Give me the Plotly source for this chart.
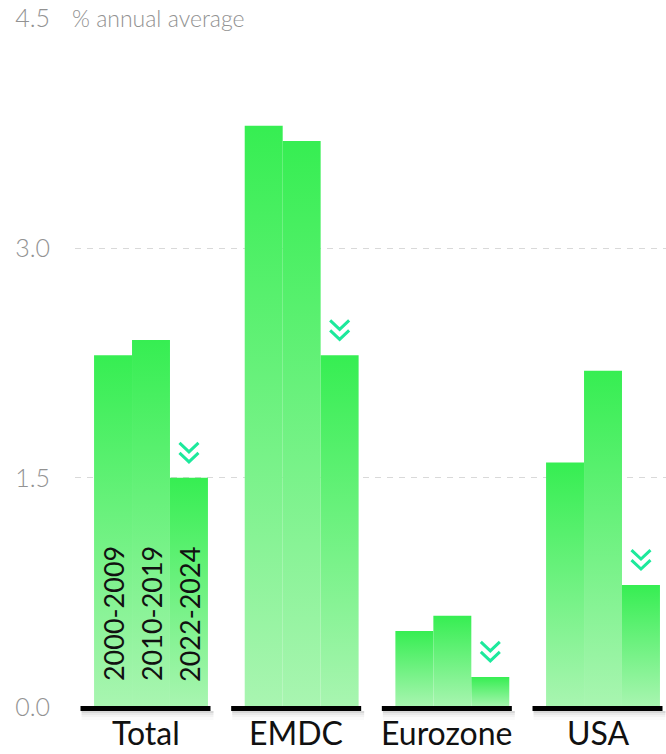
import plotly.graph_objects as go

# Average annual growth, % — three periods per economy
categories = ["Total", "EMDC", "Eurozone", "USA"]
periods = ["2000-2009", "2010-2019", "2022-2024"]
growth_2000_2009 = [2.3, 3.8, 0.5, 1.6]
growth_2010_2019 = [2.4, 3.7, 0.6, 2.2]
growth_2022_2024 = [1.5, 2.3, 0.2, 0.8]
y_ticks = [0.0, 1.5, 3.0, 4.5]

series = [growth_2000_2009, growth_2010_2019, growth_2022_2024]

BAR_W = 0.252          # width of one bar, in group units
TOP_GREEN = "#36ee52"
PALE_GREEN = "#a9f5b1"
CHEVRON = "#1de99c"
FONT = "Lato"

fig = go.Figure()

# Bars drawn as filled polygons so each one gets its own vertical gradient
for k, vals in enumerate(series):
    for i, v in enumerate(vals):
        cx = i + (k - 1) * BAR_W
        l, r = cx - BAR_W / 2, cx + BAR_W / 2
        fig.add_trace(go.Scatter(
            x=[l, r, r, l, l], y=[0, 0, v, v, 0],
            mode="lines", line=dict(width=0),
            fill="toself",
            fillgradient=dict(type="vertical",
                              colorscale=[[0, PALE_GREEN], [1, TOP_GREEN]]),
            hoverinfo="skip", showlegend=False,
        ))

shapes = []
annotations = []

# Double chevrons above the latest-period bar
for i, v in enumerate(growth_2022_2024):
    cx = i + BAR_W
    for top, apex in [(35, 26), (25, 16)]:
        shapes.append(dict(
            type="path", layer="above",
            xref="x", yref="y",
            xsizemode="pixel", ysizemode="pixel",
            xanchor=cx, yanchor=v,
            path=f"M-9.5,{top} L0,{apex} L9.5,{top}",
            line=dict(color=CHEVRON, width=3),
        ))

# Black base line under each group, with a soft shadow
# (paper y so the line is not clipped at the bottom of the plot area)
px_unit = 150.67
for i, name in enumerate(categories):
    lc = i - 5.5 / px_unit
    x0, x1 = lc - 65 / px_unit, lc + 65 / px_unit
    for (a, b, alpha) in [(-3, -5, 0.16), (-5, -7, 0.09), (-7, -9, 0.05),
                          (-9, -12, 0.02)]:
        shapes.append(dict(
            type="rect", layer="above", xref="x", yref="paper",
            ysizemode="pixel", yanchor=0, y0=a, y1=b,
            x0=x0 + 1 / px_unit, x1=x1 + 3 / px_unit,
            line=dict(width=0), fillcolor=f"rgba(0,0,0,{alpha})",
        ))
    shapes.append(dict(
        type="rect", layer="above", xref="x", yref="paper",
        ysizemode="pixel", yanchor=0, y0=2, y1=-3,
        x0=x0, x1=x1, line=dict(width=0), fillcolor="#000000",
    ))
    annotations.append(dict(
        x=lc, y=0, xref="x", yref="y", yshift=-25,
        text=name, showarrow=False, xanchor="center", yanchor="middle",
        font=dict(family=FONT, size=32, color="#111111"),
    ))

# Period labels written up the Total bars
for k, p in enumerate(periods):
    annotations.append(dict(
        x=(k - 1) * BAR_W, y=0, xref="x", yref="y", yshift=24,
        text=p, textangle=-90, showarrow=False,
        xanchor="center", yanchor="bottom",
        font=dict(family=FONT, size=27, color="#111111"),
    ))

annotations.append(dict(
    x=0, y=4.5, xref="paper", yref="y", xshift=-5,
    text="% annual average", showarrow=False,
    xanchor="left", yanchor="middle",
    font=dict(family=FONT, size=23, color="#929292", weight=300),
))

fig.update_layout(
    width=666, height=754,
    margin=dict(l=75, r=0, t=18, b=46),
    plot_bgcolor="white", paper_bgcolor="white",
    shapes=shapes, annotations=annotations,
    showlegend=False, hovermode=False,
    xaxis=dict(range=[-(151 - 75) / px_unit, (666 - 151) / px_unit],
               showgrid=False, zeroline=False, showticklabels=False,
               fixedrange=True),
    yaxis=dict(range=[-0.003, 4.503], tickvals=y_ticks,
               ticktext=[f"{t:.1f}" for t in y_ticks],
               showgrid=True, gridcolor="#d9d9d9", gridwidth=1,
               griddash="6px,6px", zeroline=False, ticks="",
               ticklabelstandoff=24,
               tickfont=dict(family=FONT, size=25, color="#929292",
                             weight=300),
               fixedrange=True),
)

fig.write_html("out.html")
